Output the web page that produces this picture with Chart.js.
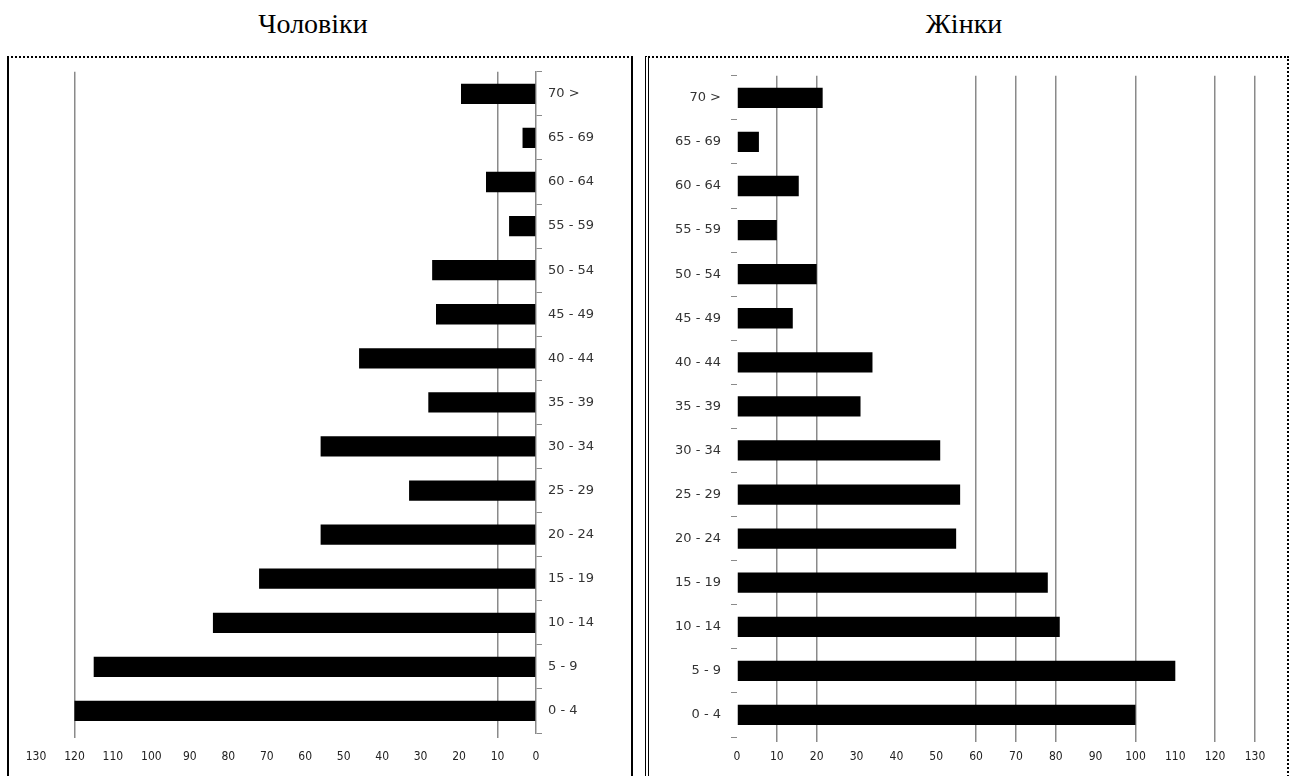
<!DOCTYPE html>
<html>
<head>
<meta charset="utf-8">
<title>Чоловіки / Жінки</title>
<script src="https://cdn.jsdelivr.net/npm/chart.js@4.4.1/dist/chart.umd.min.js"></script>
<style>
  body { margin: 0; background: #fff; width: 1290px; height: 776px; overflow: hidden; position: relative; }
  .title { position: absolute; top: 8px; font-family: "Liberation Serif", serif; font-size: 28px; color: #000; transform: translateX(-50%); white-space: nowrap; }
  .frame { position: absolute; top: 56px; height: 740px; box-sizing: border-box; }
  #menFrame { left: 7px; width: 626px; border-left: 2px solid #000; border-right: 2px solid #000; border-top: 2px dotted #000; }
  #womenFrame { left: 645px; width: 644px; border-left: 4px double #000; border-right: 2px dotted #000; border-top: 2px dotted #000; }
  canvas { position: absolute; }
  #men { left: 10px; top: 58px; }
  #women { left: 652px; top: 58px; }
</style>
</head>
<body>
<div class="title" style="left:313px">Чоловіки</div>
<div class="title" style="left:964px">Жінки</div>
<div class="frame" id="menFrame"></div>
<div class="frame" id="womenFrame"></div>
<canvas id="men" width="620" height="718"></canvas>
<canvas id="women" width="634" height="718"></canvas>
<script>
// age groups, top to bottom
const ageGroups = ['70 >', '65 - 69', '60 - 64', '55 - 59', '50 - 54', '45 - 49', '40 - 44',
  '35 - 39', '30 - 34', '25 - 29', '20 - 24', '15 - 19', '10 - 14', '5 - 9', '0 - 4'];
const menValues = [19.5, 3.5, 13, 7, 27, 26, 46, 28, 56, 33, 56, 72, 84, 115, 120];
const womenValues = [21.5, 5.5, 15.5, 10, 20, 14, 34, 31, 51, 56, 55, 78, 81, 110, 100];
const axisMax = 130;
const axisStep = 10;
// vertical lines that show up in each panel
const menGridAt = [10, 120];
const womenGridAt = [10, 20, 60, 70, 80, 100, 120, 130];

const tickFont = { family: 'DejaVu Sans Condensed', size: 12 };
const labelFont = { family: 'DejaVu Sans', size: 13 };
const lineGrey = '#8a8a8a';

function makePanel(id, values, gridAt, left) {
  return new Chart(document.getElementById(id), {
    type: 'bar',
    data: {
      labels: ageGroups,
      datasets: [{
        data: values,
        backgroundColor: '#000',
        borderWidth: 0,
        barPercentage: 0.46,
        categoryPercentage: 1
      }]
    },
    options: {
      indexAxis: 'y',
      responsive: false,
      animation: false,
      layout: { padding: left ? { left: 26, top: 7, right: 0, bottom: 0 } : { left: 0, top: 10, right: 31, bottom: 0 } },
      plugins: { legend: { display: false }, tooltip: { enabled: false } },
      scales: {
        x: {
          min: 0,
          max: axisMax,
          reverse: left,
          ticks: { stepSize: axisStep, color: '#222', font: tickFont, padding: left ? 12 : 8, maxRotation: 0 },
          grid: {
            lineWidth: 1.5,
            tickLength: 5,
            color: ctx => gridAt.includes(ctx.tick.value) ? lineGrey : 'rgba(0,0,0,0)'
          },
          border: { display: false },
          afterFit: s => { s.height = left ? 43 : 39; }
        },
        y: {
          position: left ? 'right' : 'left',
          ticks: { color: '#333', font: labelFont, padding: left ? 6 : 10 },
          grid: { drawOnChartArea: false, tickLength: 6, color: lineGrey, lineWidth: 1 },
          border: { display: left, color: lineGrey, width: 1.5 },
          afterFit: s => { s.width = left ? 94 : 85; }
        }
      }
    }
  });
}

makePanel('men', menValues, menGridAt, true);
makePanel('women', womenValues, womenGridAt, false);
</script>
</body>
</html>
